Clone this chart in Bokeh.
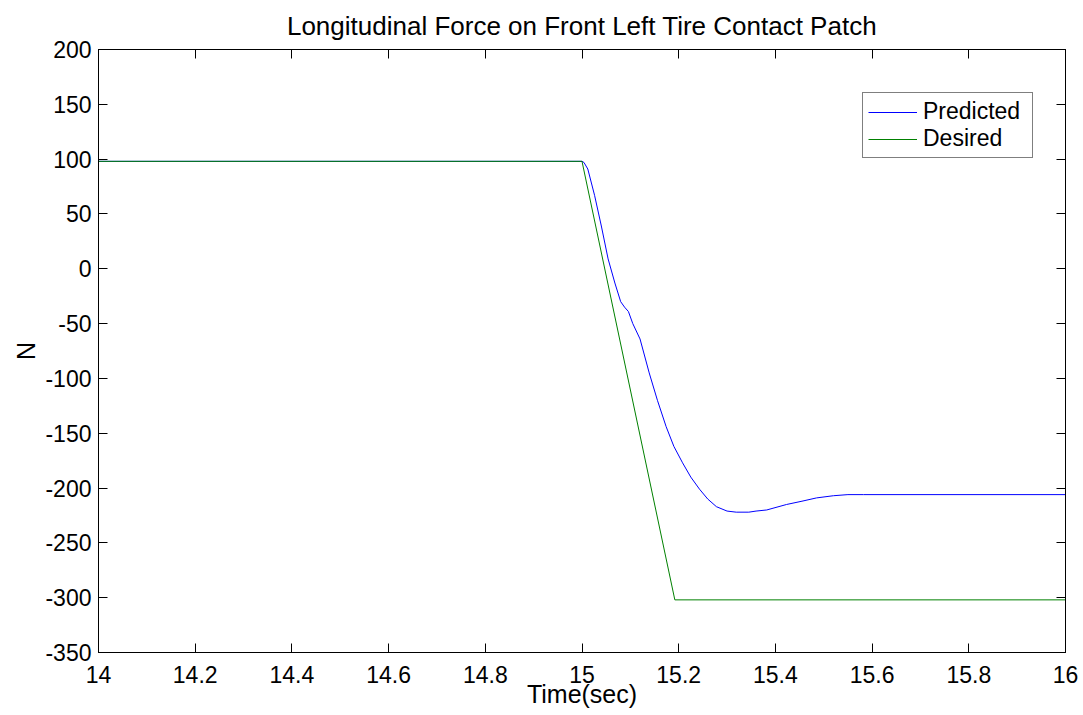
from bokeh.plotting import figure
from bokeh.models import FixedTicker, LinearAxis, Legend, LegendItem, Range1d
from bokeh.embed import file_html
from bokeh.resources import INLINE

# ---- data ----
t_pred = [14.0, 15.0, 15.004, 15.012, 15.026, 15.04, 15.054, 15.068, 15.08, 15.088,
          15.096, 15.105, 15.12, 15.139, 15.156, 15.174, 15.19, 15.208, 15.225, 15.243,
          15.26, 15.278, 15.30, 15.319, 15.345, 15.36, 15.382, 15.423, 15.455, 15.485,
          15.52, 15.55, 15.582, 16.0]
f_pred = [98, 98, 97, 91, 67, 39, 9, -13, -30, -35,
          -39, -50, -64, -95, -120, -144, -162, -177, -190, -201,
          -210, -217, -221, -222, -222, -221, -220, -215, -212, -209,
          -207, -206, -206, -206]
t_des = [14.0, 15.0, 15.192, 16.0]
f_des = [98, 98, -302, -302]

x_ticks = [14, 14.2, 14.4, 14.6, 14.8, 15, 15.2, 15.4, 15.6, 15.8, 16]
x_tick_labels = ["14", "14.2", "14.4", "14.6", "14.8", "15", "15.2", "15.4", "15.6", "15.8", "16"]
y_ticks = [-350, -300, -250, -200, -150, -100, -50, 0, 50, 100, 150, 200]
y_tick_labels = ["-350", "-300", "-250", "-200", "-150", "-100", "-50", "0", "50", "100", "150", "200"]

title_text = "Longitudinal Force on Front Left Tire Contact Patch"
x_label = "Time(sec)"
y_label = "N"
series_names = ["Predicted", "Desired"]

FONT = "Liberation Sans"

p = figure(width=1080, height=714, x_range=Range1d(14, 16), y_range=Range1d(-350, 200),
           output_backend="svg", toolbar_location=None,
           min_border_left=98, min_border_right=15, min_border_top=49, min_border_bottom=62)

p.title.text = title_text
p.title.align = "center"
p.title.vertical_align = "top"
p.title.text_font = FONT
p.title.text_font_style = "normal"
p.title.text_font_size = "26px"
p.title.text_color = "black"
p.title.standoff = 14

p.xgrid.visible = False
p.ygrid.visible = False
p.outline_line_color = "black"
p.outline_line_width = 1

def style_axis(ax, ticks, labels, show_labels):
    ax.ticker = FixedTicker(ticks=ticks)
    ax.major_tick_in = 9
    ax.major_tick_out = 0
    ax.minor_tick_line_color = None
    ax.major_tick_line_color = "black"
    ax.axis_line_color = "black"
    ax.major_label_text_font = FONT
    if show_labels:
        ax.major_label_overrides = {t: l for t, l in zip(ticks, labels)}
        ax.major_label_text_color = "black"
        ax.major_label_text_font_size = "23px"
    else:
        ax.major_label_text_color = None
        ax.major_label_text_font_size = "0px"
        ax.major_label_standoff = 0

style_axis(p.xaxis[0], x_ticks, x_tick_labels, True)
style_axis(p.yaxis[0], y_ticks, y_tick_labels, True)
p.xaxis[0].major_label_standoff = 13
p.yaxis[0].major_label_standoff = 7

p.xaxis.axis_label = x_label
p.yaxis.axis_label = y_label
for ax in (p.xaxis[0], p.yaxis[0]):
    ax.axis_label_text_font = FONT
    ax.axis_label_text_font_style = "normal"
    ax.axis_label_text_font_size = "25px"
    ax.axis_label_text_color = "black"
p.xaxis[0].axis_label_standoff = -6
p.yaxis[0].axis_label_standoff = 2

top_ax = LinearAxis()
style_axis(top_ax, x_ticks, x_tick_labels, False)
p.add_layout(top_ax, "above")
right_ax = LinearAxis()
style_axis(right_ax, y_ticks, y_tick_labels, False)
p.add_layout(right_ax, "right")

r_pred = p.line(t_pred, f_pred, line_color="#0000ff", line_width=1)
r_des = p.line(t_des, f_des, line_color="#008000", line_width=1)

legend = Legend(items=[LegendItem(label=series_names[0], renderers=[r_pred]),
                       LegendItem(label=series_names[1], renderers=[r_des])],
                location=(764, 494))
legend.label_text_font = FONT
legend.label_text_font_size = "23px"
legend.label_text_color = "black"
legend.glyph_width = 49
legend.glyph_height = 20
legend.label_height = 26
legend.label_width = 104
legend.label_standoff = 6
legend.spacing = 0
legend.padding = 5
legend.margin = 0
legend.border_line_color = "black"
legend.border_line_width = 1
legend.background_fill_color = "white"
legend.background_fill_alpha = 1.0
p.add_layout(legend, "center")

open("out.html", "w").write(file_html(p, INLINE))
